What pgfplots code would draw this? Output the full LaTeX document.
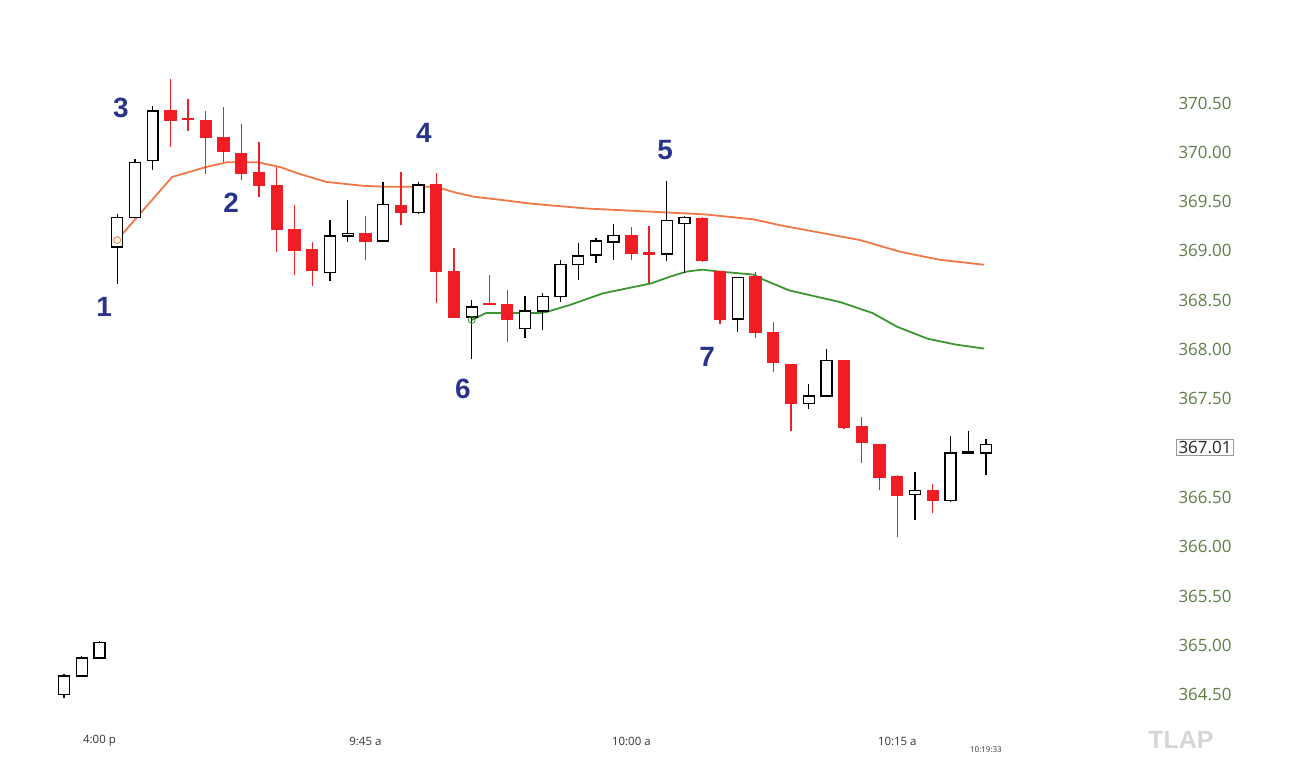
\documentclass[border=0pt]{standalone}
\usepackage{pgfplots}
\usepackage{pgfplotstable}
\pgfplotsset{compat=1.18}
\usepackage{fontspec}
\setmainfont{Open Sans}
\newfontfamily\annfont{Liberation Sans}
\definecolor{candlered}{RGB}{240,30,36}
\definecolor{maorange}{RGB}{240,120,70}
\definecolor{magreen}{RGB}{60,150,50}
\definecolor{ticktext}{RGB}{95,125,70}
\definecolor{annblue}{RGB}{40,52,140}
% candles: x, open, high, low, close
\pgfplotstableread{
x o h l c
0 364.50 364.71 364.47 364.69
1 364.69 364.89 364.68 364.87
2 364.87 365.04 364.87 365.03
3 369.04 369.37 368.66 369.34
4 369.34 369.93 369.33 369.90
5 369.92 370.47 369.82 370.42
15 368.78 369.31 368.69 369.15
16 369.15 369.52 369.09 369.18
18 369.10 369.70 369.09 369.47
20 369.39 369.70 369.37 369.67
23 368.33 368.50 367.90 368.43
26 368.21 368.54 368.12 368.39
27 368.39 368.57 368.20 368.54
28 368.54 368.91 368.48 368.86
29 368.86 369.08 368.71 368.95
30 368.96 369.13 368.88 369.10
31 369.09 369.27 368.91 369.16
34 368.97 369.71 368.90 369.31
35 369.28 369.35 368.78 369.34
38 368.31 368.73 368.18 368.73
42 367.45 367.65 367.40 367.53
43 367.53 368.01 367.53 367.89
48 366.53 366.76 366.27 366.57
50 366.47 367.12 366.45 366.95
51 366.95 367.17 366.95 366.96
52 366.95 367.09 366.73 367.04
}\upcandles
\pgfplotstableread{
x o h l c
6 370.42 370.74 370.05 370.32
7 370.34 370.54 370.22 370.33
8 370.32 370.42 369.78 370.15
9 370.15 370.46 369.90 370.01
10 369.99 370.29 369.72 369.79
11 369.79 370.10 369.55 369.67
12 369.66 369.85 368.99 369.22
13 369.22 369.47 368.76 369.01
14 369.01 369.09 368.64 368.80
17 369.18 369.35 368.91 369.10
19 369.46 369.80 369.26 369.39
21 369.67 369.79 368.47 368.79
22 368.79 369.03 368.32 368.33
24 368.47 368.76 368.46 368.46
25 368.46 368.60 368.08 368.31
32 369.16 369.24 368.91 368.98
33 368.98 369.25 368.67 368.97
36 369.33 369.34 368.89 368.90
37 368.79 368.80 368.26 368.31
39 368.74 368.79 368.12 368.17
40 368.17 368.28 367.77 367.87
41 367.85 367.85 367.17 367.45
44 367.89 367.89 367.19 367.21
45 367.22 367.32 366.85 367.06
46 367.04 367.04 366.58 366.70
47 366.71 366.73 366.10 366.52
49 366.57 366.64 366.34 366.47
}\dncandles
\pgfplotsset{
  candle/.style n args={2}{scatter, only marks, mark=*, mark size=0.01pt,
    mark options={draw=none, fill=none},
    visualization depends on={\thisrow{o}-\thisrow{c} \as \oc},
    visualization depends on={\thisrow{h}-\thisrow{c} \as \hc},
    visualization depends on={\thisrow{l}-\thisrow{c} \as \lc},
    scatter/@pre marker code/.code={%
      \draw[draw=#1, opacity=1, line width=1.3bp] (axis direction cs:0,\lc) -- (axis direction cs:0,\hc);
      \filldraw[draw=#1, fill=#2, opacity=1, line width=1.3bp] (axis direction cs:-0.31,\oc) rectangle (axis direction cs:0.31,0);
    },
    scatter/@post marker code/.code={},
  },
}
\begin{document}
\begin{tikzpicture}
\begin{axis}[
  scale only axis, width=1290bp, height=782bp,
  xmin=-3.61, xmax=69.15, ymin=363.614, ymax=371.545,
  axis line style={draw=none},
  tick style={draw=none},
  clip=false,
  scaled y ticks=false,
  ytick={364.5,365,365.5,366,366.5,367.5,368,368.5,369,369.5,370,370.5},
  yticklabel pos=right,
  /pgf/number format/assume math mode=true,
  y tick label style={/pgf/number format/fixed, /pgf/number format/fixed zerofill, /pgf/number format/precision=2,
    anchor=center, xshift=-85bp, font=\fontsize{17}{17}\selectfont, text=ticktext},
  extra y ticks={367.01},
  extra y tick style={y tick label style={draw=gray!80, text=black!85, inner sep=2bp, line width=0.7bp}},
  xtick={2,17,32,47},
  xticklabels={4:00 p, 9:45 a, 10:00 a, 10:15 a},
  x tick label style={anchor=center, yshift=41bp, font=\fontsize{11.5}{12}\selectfont, text=black!80},
  extra x ticks={52},
  extra x tick labels={10:19:33},
  extra x tick style={x tick label style={font=\fontsize{8}{8}\selectfont, yshift=-9bp}},
]
\addplot[candle={black}{white}] table[x=x, y=c] {\upcandles};
\addplot[candle={candlered}{candlered}] table[x=x, y=c] {\dncandles};
% moving averages
\addplot[maorange, line width=1.8bp, line join=round, mark=o, mark indices={1}, mark size=3.5bp, mark options={line width=0.8bp}] coordinates {
(3,369.11) (4.3,369.38) (6.1,369.75) (8,369.85) (9.2,369.90) (10.9,369.90) (12.2,369.85) (13.3,369.78) (14.8,369.70) (16.9,369.66) (18.4,369.65) (21,369.65) (21.9,369.60) (23.1,369.55) (25,369.51) (26.3,369.48) (29.5,369.43) (34,369.39) (36.2,369.37) (38.9,369.32) (40.4,369.26) (44.9,369.11) (47.2,368.99) (49.4,368.91) (51.9,368.86)};
\addplot[magreen, line width=1.8bp, line join=round, mark=o, mark indices={1}, mark size=3.5bp, mark options={line width=0.8bp}] coordinates {
(23,368.30) (23.8,368.37) (26.8,368.37) (27.2,368.38) (28.5,368.45) (30.4,368.57) (33.1,368.67) (34.2,368.74) (35.1,368.79) (36,368.81) (37,368.79) (38.9,368.76) (39.3,368.72) (40.9,368.60) (43.8,368.48) (45.6,368.37) (47,368.23) (48.7,368.11) (50.3,368.05) (51.9,368.01)};
% annotations
\begin{scope}[every node/.style={font=\annfont\bfseries\fontsize{28}{28}\selectfont, text=annblue}]
\node at (axis cs:2.26,368.43) {1};
\node at (axis cs:9.42,369.49) {2};
\node at (axis cs:3.21,370.45) {3};
\node at (axis cs:20.3,370.20) {4};
\node at (axis cs:33.9,370.02) {5};
\node at (axis cs:22.5,367.60) {6};
\node at (axis cs:36.27,367.93) {7};
\end{scope}
\node[font=\annfont\bfseries\fontsize{25}{25}\selectfont, text=black!16] at (axis cs:63.0,364.04) {TLAP};
\end{axis}
\pgfresetboundingbox
\path (current axis.south west) rectangle (current axis.north east);
\end{tikzpicture}
\end{document}
